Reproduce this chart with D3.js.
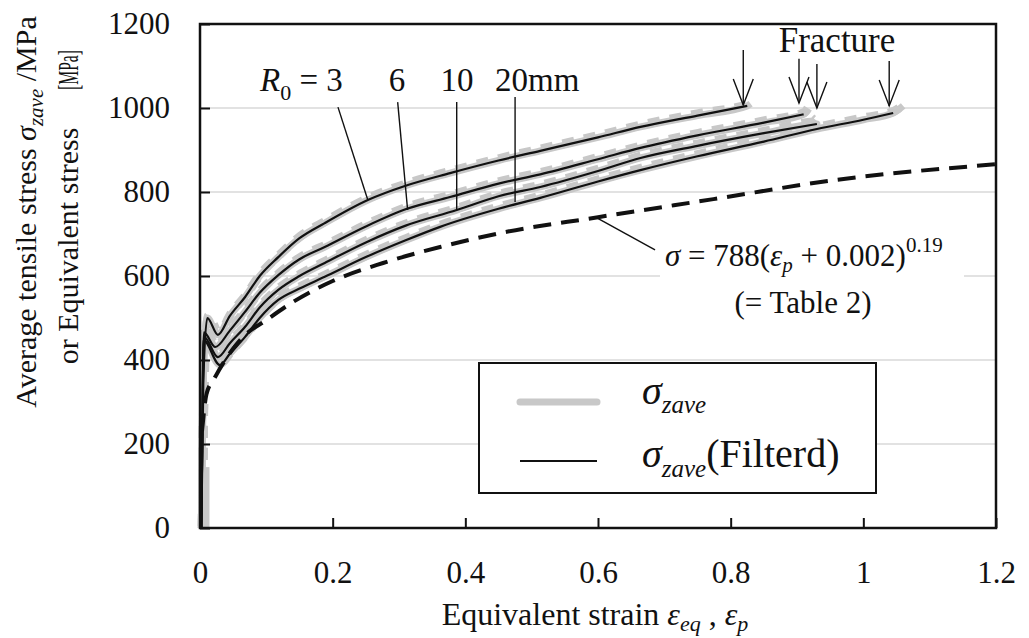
<!DOCTYPE html>
<html>
<head>
<meta charset="utf-8">
<script src="https://cdn.jsdelivr.net/npm/d3@7"></script>
<style>
  body { margin: 0; background: #fff; }
  svg text { font-family: "Liberation Serif", "Times New Roman", Times, Tinos, "DejaVu Serif", serif; fill: #111; }
</style>
</head>
<body>
<div id="chart"></div>
<script>
// stress-strain curves for four notch radii
var r3Eps  = [0.002, 0.005, 0.011, 0.027, 0.045, 0.068, 0.09, 0.118, 0.15, 0.188, 0.253, 0.31, 0.377, 0.45, 0.513, 0.6, 0.664, 0.75, 0.825];
var r3Sig  = [0, 350, 500, 460, 505, 550, 600, 645, 690, 726, 781, 815, 845, 875, 898, 930, 955, 982, 1005];
var r6Eps  = [0.002, 0.004, 0.006, 0.023, 0.045, 0.068, 0.09, 0.118, 0.15, 0.188, 0.25, 0.312, 0.377, 0.45, 0.513, 0.6, 0.664, 0.75, 0.85, 0.91];
var r6Sig  = [0, 300, 466, 431, 470, 515, 560, 602, 640, 669, 718, 760, 788, 820, 842, 878, 905, 935, 965, 985];
var r10Eps = [0.002, 0.004, 0.006, 0.027, 0.045, 0.068, 0.09, 0.118, 0.15, 0.188, 0.25, 0.31, 0.387, 0.45, 0.513, 0.6, 0.664, 0.75, 0.85, 0.93];
var r10Sig = [0, 300, 455, 407, 440, 479, 525, 567, 600, 631, 680, 720, 757, 790, 812, 850, 881, 910, 940, 962];
var r20Eps = [0.002, 0.004, 0.005, 0.03, 0.045, 0.068, 0.09, 0.118, 0.15, 0.188, 0.25, 0.31, 0.362, 0.45, 0.513, 0.6, 0.664, 0.75, 0.85, 0.93, 1.0, 1.045];
var r20Sig = [0, 300, 448, 388, 415, 455, 500, 543, 570, 598, 645, 685, 717, 760, 786, 825, 852, 885, 920, 950, 972, 988];

// raw (unfiltered) data runs a little past the filtered end
var rawTailEps = [0.83, 0.915, 0.92, 1.06];
var rawTailSig = [1010, 995, 972, 1005];
var rawStartEps = [0.009, 0.009];
var rawStartSig = [0, 145];

// Swift-type fit (dashed)
var fitEps = [0.003, 0.01, 0.022, 0.04, 0.065, 0.1, 0.14, 0.2, 0.276, 0.362, 0.452, 0.6, 0.774, 0.955, 1.2];
var fitSig = [230, 320, 357, 405, 455, 495, 538, 588, 631, 669, 702, 740, 783, 828, 866];

// fracture arrows
var fracEps  = [0.819, 0.903, 0.930, 1.039];
var fracTip  = [1007, 1012, 1000, 1005];
var fracTail = [1138, 1117, 1105, 1112];

var radiusLabels = ["6", "10", "20mm"];
var xTicks = [0, 0.2, 0.4, 0.6, 0.8, 1, 1.2];
var yTicks = [0, 200, 400, 600, 800, 1000, 1200];

var width = 1029, height = 638;
var serif = "'Liberation Serif', 'Times New Roman', Times, Tinos, 'DejaVu Serif', serif";
var x = d3.scaleLinear().domain([0, 1.2]).range([200, 996]);
var y = d3.scaleLinear().domain([0, 1200]).range([528, 24]);

var svg = d3.select("#chart").append("svg")
    .attr("width", width)
    .attr("height", height)
    .style("font-family", serif);

function pts(e, s) {
    return e.map(function (d, i) { return [d, s[i]]; });
}

var curves = [pts(r3Eps, r3Sig), pts(r6Eps, r6Sig), pts(r10Eps, r10Sig), pts(r20Eps, r20Sig)];

var line = d3.line()
    .x(function (d) { return x(d[0]); })
    .y(function (d) { return y(d[1]); })
    .curve(d3.curveMonotoneX);

// gridlines
svg.append("g").selectAll("line")
    .data(yTicks.filter(function (d) { return d > 0 && d < 1200; }))
    .enter().append("line")
    .attr("x1", x(0)).attr("x2", x(1.2))
    .attr("y1", function (d) { return y(d); })
    .attr("y2", function (d) { return y(d); })
    .style("stroke", "#d9d9d9")
    .style("stroke-width", 1.5);

// white box behind the formula
svg.append("rect")
    .attr("x", 660).attr("y", 238)
    .attr("width", 304).attr("height", 46)
    .style("fill", "#fff");

// raw data in grey
var raw = svg.append("g");
curves.forEach(function (c, i) {
    var rc = c.concat([[rawTailEps[i], rawTailSig[i]]]);
    raw.append("path").datum(rc).attr("d", line)
        .style("fill", "none").style("stroke", "#c8c8c8")
        .style("stroke-width", 7).style("stroke-linejoin", "round");
    raw.append("path").datum(rc).attr("d", line)
        .attr("transform", "translate(1,-2)")
        .style("fill", "none").style("stroke", "#c8c8c8")
        .style("stroke-width", 9).style("stroke-dasharray", "12 10");
});
raw.append("path").datum(pts(rawStartEps, rawStartSig)).attr("d", d3.line()
        .x(function (d) { return x(d[0]); })
        .y(function (d) { return y(d[1]); }))
    .style("stroke", "#c8c8c8").style("stroke-width", 7);

// fit curve
svg.append("path").datum(pts(fitEps, fitSig)).attr("d", line)
    .style("fill", "none").style("stroke", "#111")
    .style("stroke-width", 4).style("stroke-dasharray", "18 10");

// filtered curves
svg.append("g").selectAll("path")
    .data(curves)
    .enter().append("path")
    .attr("d", line)
    .style("fill", "none").style("stroke", "#111")
    .style("stroke-width", 2.2).style("stroke-linejoin", "round");

// axes
var yAxis = d3.axisLeft(y).tickValues(yTicks).tickSize(-10).tickPadding(30).tickFormat(d3.format("d"));
var xAxis = d3.axisBottom(x).tickValues(xTicks).tickSize(-10).tickPadding(33).tickFormat(function (d) { return String(d); });

var gy = svg.append("g").attr("transform", "translate(200,0)").call(yAxis);
var gx = svg.append("g").attr("transform", "translate(0,528)").call(xAxis);
[gx, gy].forEach(function (g) {
    g.attr("font-family", null);
    g.select(".domain").remove();
    g.selectAll("line").style("stroke", "#111").style("stroke-width", 2);
    g.selectAll("text").style("font-size", "31px")
        .style("font-family", serif).style("fill", "#111");
});

svg.append("rect")
    .attr("x", x(0)).attr("y", y(1200))
    .attr("width", x(1.2) - x(0)).attr("height", y(0) - y(1200))
    .style("fill", "none").style("stroke", "#111").style("stroke-width", 2.5);

// legend
var leg = svg.append("g");
leg.append("rect").attr("x", 479).attr("y", 363).attr("width", 397).attr("height", 130)
    .style("fill", "#fff").style("stroke", "#111").style("stroke-width", 2);
leg.append("line").attr("x1", 520).attr("x2", 597).attr("y1", 402).attr("y2", 402)
    .style("stroke", "#c8c8c8").style("stroke-width", 7).style("stroke-linecap", "round");
leg.append("line").attr("x1", 520).attr("x2", 597).attr("y1", 461).attr("y2", 461)
    .style("stroke", "#111").style("stroke-width", 2);
var t1 = leg.append("text").attr("x", 642).attr("y", 404).style("font-size", "40px");
t1.append("tspan").style("font-style", "italic").text("σ");
t1.append("tspan").attr("dy", 9).style("font-style", "italic").style("font-size", "25px").text("zave");
var t2 = leg.append("text").attr("x", 642).attr("y", 467).style("font-size", "40px");
t2.append("tspan").style("font-style", "italic").text("σ");
t2.append("tspan").attr("dy", 10).style("font-style", "italic").style("font-size", "25px").text("zave");
t2.append("tspan").attr("dy", -10).text("(Filterd)");

// y title
var yt1 = svg.append("text").attr("transform", "translate(36,212) rotate(-90)")
    .attr("text-anchor", "middle").style("font-size", "30px");
yt1.append("tspan").text("Average tensile stress ");
yt1.append("tspan").style("font-style", "italic").text("σ");
yt1.append("tspan").attr("dy", 7).style("font-style", "italic").style("font-size", "21px").text("zave");
yt1.append("tspan").attr("dy", -7).text(" /MPa");
svg.append("text").attr("transform", "translate(78,246) rotate(-90)")
    .attr("text-anchor", "middle").style("font-size", "30px").text("or Equivalent stress");
svg.append("text").attr("transform", "translate(78,70) rotate(-90)")
    .attr("text-anchor", "middle").style("font-size", "30px")
    .attr("textLength", 40).attr("lengthAdjust", "spacingAndGlyphs").text("[MPa]");

// x title
var xt = svg.append("text").attr("x", 595).attr("y", 625)
    .attr("text-anchor", "middle").style("font-size", "32px");
xt.append("tspan").text("Equivalent strain ");
xt.append("tspan").style("font-style", "italic").text("ε");
xt.append("tspan").attr("dy", 6).style("font-style", "italic").style("font-size", "22px").text("eq");
xt.append("tspan").attr("dy", -6).text(" ,  ");
xt.append("tspan").style("font-style", "italic").text("ε");
xt.append("tspan").attr("dy", 6).style("font-style", "italic").style("font-size", "22px").text("p");

// radius labels and leader lines
var rl = svg.append("text").attr("x", 260).attr("y", 91).style("font-size", "33px");
rl.append("tspan").style("font-style", "italic").text("R");
rl.append("tspan").attr("dy", 9).style("font-size", "22px").text("0");
rl.append("tspan").attr("dy", -9).text(" = 3");
var labelX = [397, 457, 495];
var anchors = ["middle", "middle", "start"];
radiusLabels.forEach(function (s, i) {
    svg.append("text").attr("x", labelX[i]).attr("y", 91)
        .attr("text-anchor", anchors[i]).style("font-size", "33px").text(s);
});
var leaderFrom = [[0.208, 1002], [0.298, 1014], [0.387, 1014], [0.475, 1026], [0.686, 662]];
var leaderTo   = [[0.253, 781],  [0.313, 757],  [0.387, 757],  [0.475, 776],  [0.599, 738]];
leaderFrom.forEach(function (p, i) {
    svg.append("line")
        .attr("x1", x(p[0])).attr("y1", y(p[1]))
        .attr("x2", x(leaderTo[i][0])).attr("y2", y(leaderTo[i][1]))
        .style("stroke", "#111").style("stroke-width", 1.4);
});

// fracture arrows
svg.append("text").attr("x", 837).attr("y", 52).attr("text-anchor", "middle")
    .style("font-size", "35px").text("Fracture");
fracEps.forEach(function (e, i) {
    var cx = x(e), ty = y(fracTip[i]);
    svg.append("line").attr("x1", cx).attr("x2", cx)
        .attr("y1", y(fracTail[i])).attr("y2", ty)
        .style("stroke", "#111").style("stroke-width", 1.4);
    svg.append("path")
        .attr("d", "M" + (cx - 10) + "," + (ty - 26) + "L" + cx + "," + ty + "L" + (cx + 10) + "," + (ty - 26))
        .style("fill", "none").style("stroke", "#111").style("stroke-width", 1.4);
});

// formula
var f = svg.append("text").attr("x", 665).attr("y", 266).style("font-size", "31px");
f.append("tspan").style("font-style", "italic").text("σ");
f.append("tspan").text(" = 788(");
f.append("tspan").style("font-style", "italic").text("ε");
f.append("tspan").attr("dy", 6).style("font-style", "italic").style("font-size", "21px").text("p");
f.append("tspan").attr("dy", -6).text(" + 0.002)");
f.append("tspan").attr("dy", -14).style("font-size", "21px").text("0.19");
svg.append("text").attr("x", 803).attr("y", 313).attr("text-anchor", "middle")
    .style("font-size", "31px").text("(= Table 2)");
</script>
</body>
</html>
